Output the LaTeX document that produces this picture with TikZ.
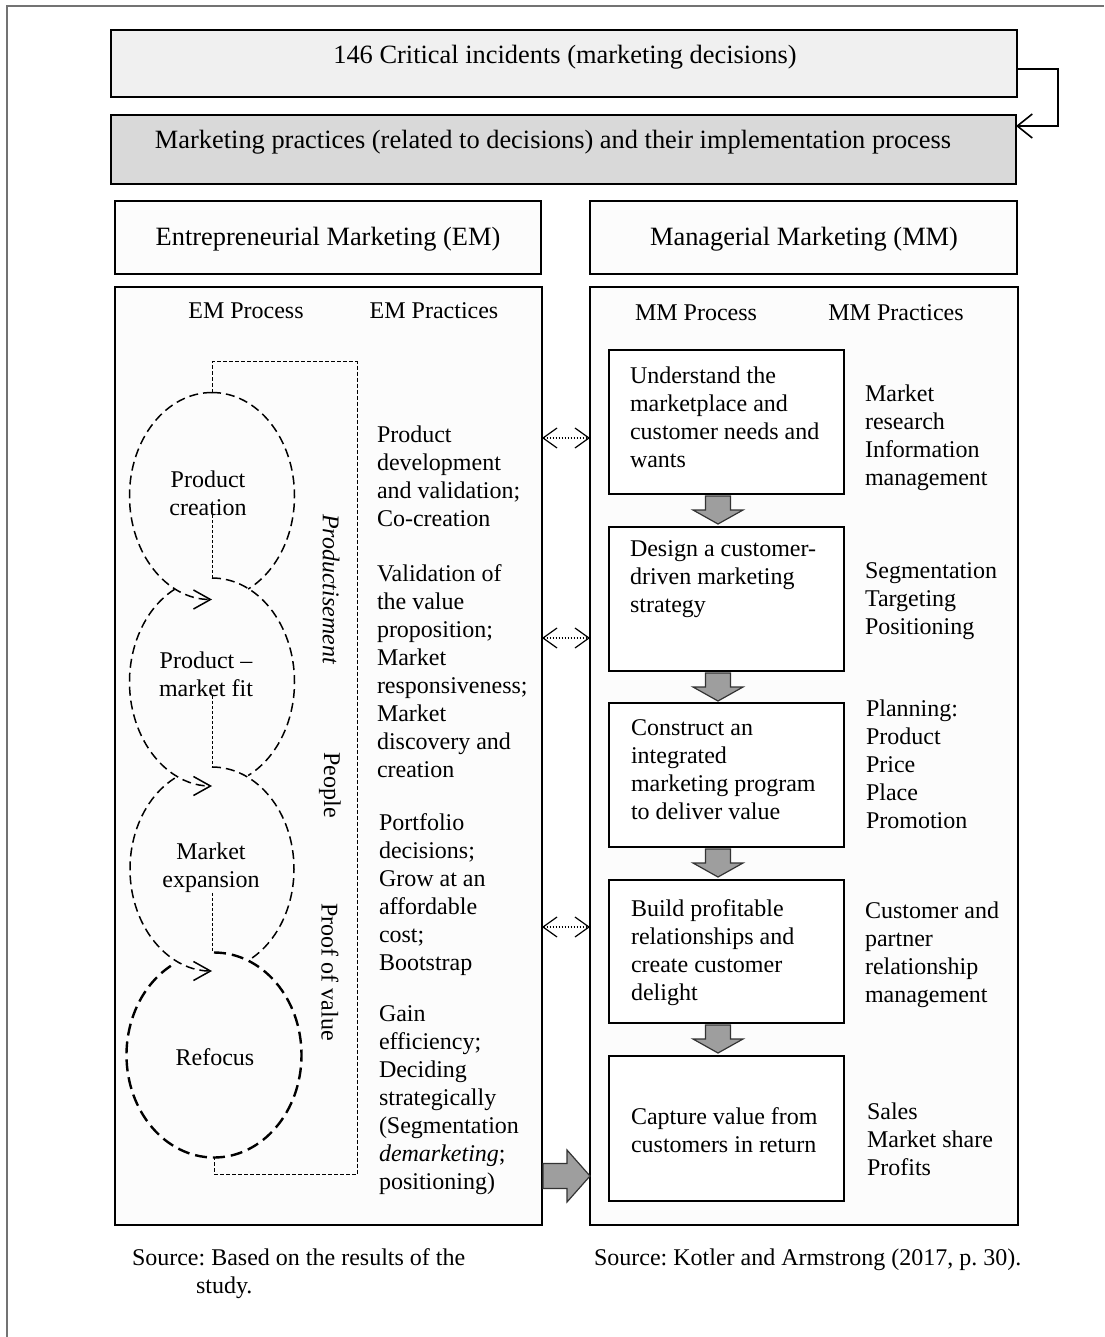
\documentclass[tikz,border=0pt]{standalone}
\usepackage{fontspec}
\setmainfont{Liberation Serif}
\usetikzlibrary{arrows.meta,calc,fit}
\frenchspacing
\begin{document}
\begin{tikzpicture}[x=0.5pt,y=0.5pt,
  every node/.style={inner sep=0pt,outer sep=0pt},
  boxst/.style={draw=black,line width=0.8pt,inner sep=0pt,fit={#1}},
  hdr/.style={font=\fontsize{13.2}{15}\selectfont},
  lab/.style={font=\fontsize{12}{14}\selectfont},
  blk/.style={font=\fontsize{12}{14}\selectfont,align=left,anchor=west},
  edash/.style={line width=0.75pt,dash pattern=on 4.5pt off 2.5pt},
  rdash/.style={line width=1.2pt,dash pattern=on 6pt off 3pt},
  brk/.style={line width=0.5pt,dash pattern=on 2pt off 1pt},
  thind/.style={line width=0.4pt,dash pattern=on 1.5pt off 1pt},
  ebarb/.style={-{Straight Barb[length=8.5pt,width=9.5pt]}},
  garr/.style={draw=black!80,line width=0.6pt,fill=black!38},
  dotarr/.style={line width=0.6pt,dash pattern=on 0.6pt off 0.9pt,{Straight Barb[length=7pt,width=10pt]}-{Straight Barb[length=7pt,width=10pt]}},
  darr/.pic={\path[garr] (-12.5,0) -- (12.5,0) -- (12.5,-14) -- (25,-14) -- (0,-28) -- (-25,-14) -- (-12.5,-14) -- cycle;},
  rarr/.pic={\path[garr] (1,12.5) -- (25,12.5) -- (25,26) -- (48,0) -- (25,-26) -- (25,-12.5) -- (1,-12.5) -- cycle;},
]
\useasboundingbox (0,0) rectangle (1104,-1337);
\fill[white] (0,0) rectangle (1104,-1337);
% outer frame (clipped at right and bottom)
\draw[black!55,line width=0.8pt] (7,-1337) -- (7,-6) -- (1104,-6);

% top boxes
\node[boxst={(111,-30)(1017,-97)},fill=black!6] (crit) {};
\node[hdr] (critt) at (565,-57) {146 Critical incidents (marketing decisions)};
\node[boxst={(111,-115)(1016,-184)},fill=black!15] (prac) {};
\node[hdr] (pract) at (553,-142) {Marketing practices (related to decisions) and their implementation process};
\draw[line width=0.8pt,-{Straight Barb[length=7.5pt,width=12pt]}] ([yshift=-2.75pt]crit.east) -- ++(41,0) |- ([yshift=11.75pt]prac.east);

% headers
\node[boxst={(115,-201)(541,-274)},fill=black!1] (emh) {};
\node[hdr] (emht) at (328,-239) {Entrepreneurial Marketing (EM)};
\node[boxst={(590,-201)(1017,-274)},fill=black!1] (mmh) {};
\node[hdr] (mmht) at (804,-239) {Managerial Marketing (MM)};

% bodies
\node[boxst={(115,-287)(542,-1225)},fill=black!1] (emb) {};
\node[boxst={(590,-287)(1018,-1225)},fill=black!1] (mmb) {};

\node[lab] (emp) at (246,-311) {EM Process};
\node[lab] (emq) at (434,-311) {EM Practices};
\node[lab] (mmp) at (696,-313) {MM Process};
\node[lab] (mmq) at (896,-313) {MM Practices};

% EM cycle
\coordinate (c1) at (212,-496);
\coordinate (c2) at (212,-682);
\coordinate (c3) at (212,-869);
\coordinate (c4) at (214,-1055);
\coordinate (c4t) at ($(c4)+(0,102.5)$);
\coordinate (bc) at (357,-1174);

\draw[edash,ebarb] ($(c1)+(90:82.5 and 103.5)$) arc[start angle=90,end angle=270,x radius=82.5,y radius=103.5];
\draw[edash] ($(c1)+(90:82.5 and 103.5)$) arc[start angle=90,end angle=-64,x radius=82.5,y radius=103.5];
\draw[edash,ebarb] ($(c2)+(117:82.5 and 104)$) arc[start angle=117,end angle=270,x radius=82.5,y radius=104];
\draw[edash] ($(c2)+(90:82.5 and 104)$) arc[start angle=90,end angle=-64,x radius=82.5,y radius=104];
\draw[edash,ebarb] ($(c3)+(117:82 and 102)$) arc[start angle=117,end angle=270,x radius=82,y radius=102];
\draw[edash] ($(c3)+(90:82 and 102)$) arc[start angle=90,end angle=-63,x radius=82,y radius=102];
\draw[rdash] (c4t) arc[start angle=90,end angle=-243,x radius=87.5,y radius=102.5];

\node[lab,align=center] (t1) at (208,-493) {Product\\creation};
\node[lab,align=center] (t2) at (206,-674) {Product –\\market fit};
\node[lab,align=center] (t3) at (211,-868) {Market\\expansion};
\node[lab] (t4) at (215,-1057) {Refocus};

\draw[thind] (t1.south -| c1) -- ($(c2)+(0,104)$);
\draw[thind] (t2.south -| c2) -- ($(c3)+(0,102)$);
\draw[thind] (t3.south -| c3) -- (c3 |- c4t);

\draw[brk] ($(c1)+(0,103.5)$) -- ++(0,31) -| (bc) -| ($(c4)+(0,-102.5)$);

\node[rotate=-90,font=\fontsize{12}{14}\selectfont\itshape] (lp1) at (331,-589) {Productisement};
\node[lab,rotate=-90] (lp2) at (330,-785) {People};
\node[lab,rotate=-90] (lp3) at (330,-972) {Proof of value};

% EM practices
\node[blk] (ep1) at (377,-476) {Product\\development\\and validation;\\Co-creation};
\node[blk] (ep2) at (377,-671.5) {Validation of\\the value\\proposition;\\Market\\responsiveness;\\Market\\discovery and\\creation};
\node[blk] (ep3) at (379,-894.5) {Portfolio\\decisions;\\Grow at an\\affordable\\cost;\\Bootstrap};
\node[blk] (ep4) at (379,-1100.5) {Gain\\efficiency;\\Deciding\\strategically\\(Segmentation\\\textit{demarketing};\\positioning)};

% MM process
\node[boxst={(609,-350)(844,-494)},fill=white] (ma) {};
\node[boxst={(609,-527)(844,-671)},fill=white] (mb) {};
\node[boxst={(609,-703)(844,-847)},fill=white] (mc) {};
\node[boxst={(609,-880)(844,-1023)},fill=white] (md) {};
\node[boxst={(609,-1056)(844,-1201)},fill=white] (me) {};
\node[blk] (mat) at (630,-417) {Understand the\\marketplace and\\customer needs and\\wants};
\node[blk] (mbt) at (630,-579) {Design a customer-\\driven marketing\\strategy};
\node[blk] (mct) at (631,-769.5) {Construct an\\integrated\\marketing program\\to deliver value};
\node[blk] (mdt) at (631,-953) {Build profitable\\relationships and\\create customer\\delight};
\node[blk] (met) at (631,-1130) {Capture value from\\customers in return};

\pic at ($(ma.south)+(-8.5,-2)$) {darr};
\pic at ($(mb.south)+(-8.5,-2)$) {darr};
\pic at ($(mc.south)+(-8.5,-2)$) {darr};
\pic at ($(md.south)+(-8.5,-2)$) {darr};

% MM practices
\node[blk] (mp1) at (865,-438) {Market\\research\\Information\\management};
\node[blk] (mp2) at (865,-601.5) {Segmentation\\Targeting\\Positioning};
\node[blk] (mp3) at (866,-764) {Planning:\\Product\\Price\\Place\\Promotion};
\node[blk] (mp4) at (865,-955) {Customer and\\partner\\relationship\\management};
\node[blk] (mp5) at (867,-1139) {Sales\\Market share\\Profits};

% links between EM and MM
\draw[dotarr] ([yshift=159pt]emb.east) -- ([yshift=159pt]mmb.west);
\draw[dotarr] ([yshift=59pt]emb.east) -- ([yshift=59pt]mmb.west);
\draw[dotarr] ([yshift=-85.5pt]emb.east) -- ([yshift=-85.5pt]mmb.west);
\pic at ([yshift=-210pt]emb.east) {rarr};

% sources
\node[blk] (s1) at (132,-1273.5) {Source: Based on the results of the\\\hspace*{32pt}study.};
\node[blk] (s2) at (594,-1260) {Source: Kotler and Armstrong (2017, p. 30).};
\end{tikzpicture}
\end{document}
